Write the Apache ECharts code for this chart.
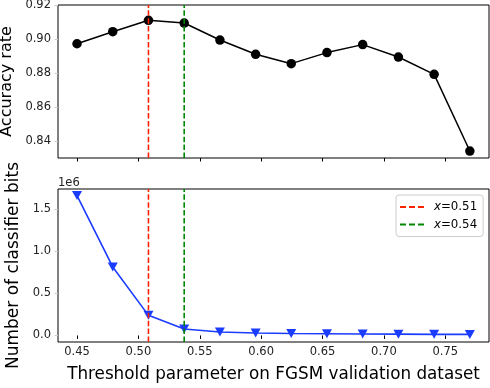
<!DOCTYPE html>
<html><head><meta charset="utf-8">
<script src="https://cdn.jsdelivr.net/npm/echarts@6/dist/echarts.min.js"></script>
<style>html,body{margin:0;padding:0;background:#fff}#c{width:490px;height:388px}</style>
</head><body><div id="c"></div>
<script>
var thresholds = [0.45, 0.4791, 0.5082, 0.5373, 0.5664, 0.5955, 0.6245, 0.6536, 0.6827, 0.7118, 0.7409, 0.77];
var accuracy = [0.8972, 0.9043, 0.9110, 0.9094, 0.8994, 0.8910, 0.8855, 0.8920, 0.8967, 0.8894, 0.8792, 0.8341];
var classifierBits = [1659000, 812000, 238000, 76000, 40000, 28000, 22000, 20000, 17000, 15000, 13000, 12000];
var xTicks = [0.45, 0.50, 0.55, 0.60, 0.65, 0.70, 0.75];
var accTicks = [0.84, 0.86, 0.88, 0.90, 0.92];
var bitsTicks = [0, 500000, 1000000, 1500000];
var vlines = [{name: 'x=0.51', x: 0.5082, color: '#ff2200'}, {name: 'x=0.54', x: 0.5373, color: '#008800'}];

var FONT = 'DejaVu Sans';
var xMin = 0.4345, xMax = 0.7856;
var accMin = 0.83, accMax = 0.92;
var bitsMin = -78000, bitsMax = 1737000;

function pairs(xs, ys) { return xs.map(function (x, i) { return [x, ys[i]]; }); }

var series = [
  {type: 'line', xAxisIndex: 0, yAxisIndex: 0, data: pairs(thresholds, accuracy),
   symbol: 'circle', symbolSize: 9.5, color: '#000', lineStyle: {color: '#000', width: 1.5},
   itemStyle: {color: '#000'}, z: 3, animation: false},
  {type: 'line', xAxisIndex: 1, yAxisIndex: 1, data: pairs(thresholds, classifierBits),
   symbol: 'triangle', symbolRotate: 180, symbolSize: [10, 9], color: '#1a3cff',
   lineStyle: {color: '#1a3cff', width: 1.6}, itemStyle: {color: '#1a3cff'}, z: 3, animation: false}
];
vlines.forEach(function (v) {
  series.push({type: 'line', name: v.name, xAxisIndex: 0, yAxisIndex: 0,
    data: [[v.x, accMin], [v.x, accMax]], symbol: 'none', color: v.color,
    lineStyle: {color: v.color, width: 1.6, type: [5.5, 2.4]}, z: 4, animation: false});
  series.push({type: 'line', name: v.name, xAxisIndex: 1, yAxisIndex: 1,
    data: [[v.x, bitsMin], [v.x, bitsMax]], symbol: 'none', color: v.color,
    lineStyle: {color: v.color, width: 1.6, type: [5.5, 2.4]}, z: 4, animation: false});
});

var dashIcon = 'path://M0,0h6v2h-6z M9,0h6v2h-6z M18,0h6v2h-6z';
var tickLabel = {fontFamily: FONT, fontSize: 11.5, color: '#222'};
var chart = echarts.init(document.getElementById('c'), null, {renderer: 'canvas'});
chart.setOption({
  animation: false,
  grid: [
    {left: 58, top: 5, width: 431, height: 153, show: true, borderColor: '#000', borderWidth: 1,
     backgroundColor: 'transparent', containLabel: false, outerBoundsMode: 'none'},
    {left: 58, top: 189, width: 431, height: 153, show: true, borderColor: '#000', borderWidth: 1,
     backgroundColor: 'transparent', containLabel: false, outerBoundsMode: 'none'}
  ],
  xAxis: [
    {type: 'value', gridIndex: 0, min: xMin, max: xMax, splitLine: {show: false},
     axisLine: {show: false},
     axisTick: {show: true, inside: false, length: 3.5, customValues: xTicks, lineStyle: {color: '#000', width: 1}},
     axisLabel: {show: false}},
    {type: 'value', gridIndex: 1, min: xMin, max: xMax, splitLine: {show: false},
     axisLine: {show: false},
     axisTick: {show: true, inside: false, length: 3.5, customValues: xTicks, lineStyle: {color: '#000', width: 1}},
     axisLabel: Object.assign({show: true, margin: 4, customValues: xTicks,
       formatter: function (v) { return v.toFixed(2); }}, tickLabel),
     name: 'Threshold parameter on FGSM validation dataset', nameLocation: 'middle', nameGap: 24,
     nameTextStyle: {fontFamily: FONT, fontSize: 16.8, color: '#000'}}
  ],
  yAxis: [
    {type: 'value', gridIndex: 0, min: accMin, max: accMax, splitLine: {show: false},
     axisLine: {show: false},
     axisTick: {show: true, length: 3.5, customValues: accTicks, lineStyle: {color: '#ccc'}},
     axisLabel: Object.assign({show: true, margin: 7, customValues: accTicks,
       formatter: function (v) { return v.toFixed(2); }}, tickLabel),
     name: 'Accuracy rate', nameLocation: 'middle', nameGap: 41,
     nameTextStyle: {fontFamily: FONT, fontSize: 16, color: '#000'}},
    {type: 'value', gridIndex: 1, min: bitsMin, max: bitsMax, splitLine: {show: false},
     axisLine: {show: false},
     axisTick: {show: true, length: 3.5, customValues: bitsTicks, lineStyle: {color: '#ccc'}},
     axisLabel: Object.assign({show: true, margin: 7, customValues: bitsTicks,
       formatter: function (v) { return (v / 1e6).toFixed(1); }}, tickLabel),
     name: 'Number of classifier bits', nameLocation: 'middle', nameGap: 34,
     nameTextStyle: {fontFamily: FONT, fontSize: 17, color: '#000'}}
  ],
  legend: {
    data: vlines.map(function (v) { return {name: v.name, icon: dashIcon}; }),
    orient: 'vertical', left: 396, top: 195,
    padding: [6, 6, 6, 4], itemGap: 5.5, itemWidth: 24, itemHeight: 2,
    backgroundColor: 'rgba(255,255,255,0.8)', borderColor: '#ccc', borderWidth: 1, borderRadius: 3,
    formatter: function (name) { return '{i|x}' + name.slice(1); },
    textStyle: {fontFamily: FONT, fontSize: 11.8, color: '#000', padding: [0, 0, 0, 5],
      rich: {i: {fontFamily: FONT, fontStyle: 'italic', fontSize: 11.8, color: '#000'}}}
  },
  graphic: [
    {type: 'text', left: 58, top: 177, style: {text: '1e6', font: '11.5px "DejaVu Sans"', fill: '#222'}}
  ],
  series: series
});
</script></body></html>
